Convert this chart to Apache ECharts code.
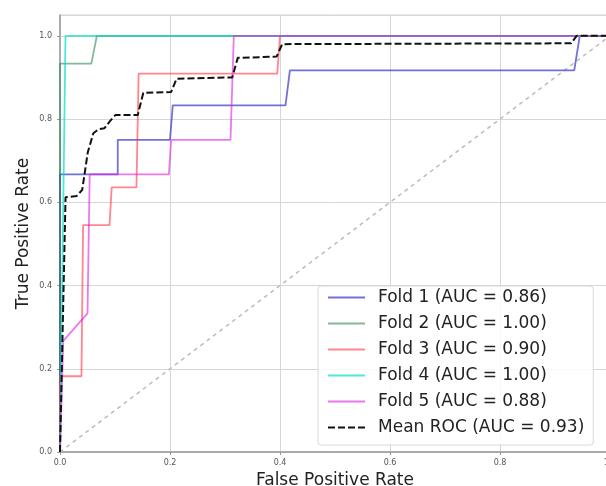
<!DOCTYPE html>
<html>
<head>
<meta charset="utf-8">
<script src="https://cdn.jsdelivr.net/npm/echarts@6/dist/echarts.min.js"></script>
<style>html,body{margin:0;padding:0;background:#fff}#c{width:606px;height:486px}</style>
</head>
<body>
<div id="c"></div>
<script>
// ---- data: [false positive rate, true positive rate]
var foldNames = ["Fold 1 (AUC = 0.86)", "Fold 2 (AUC = 1.00)", "Fold 3 (AUC = 0.90)", "Fold 4 (AUC = 1.00)", "Fold 5 (AUC = 0.88)"];
var meanName = "Mean ROC (AUC = 0.93)";
var fold1 = [[0,0],[0,0.667],[0.105,0.667],[0.105,0.75],[0.2,0.75],[0.205,0.833],[0.41,0.833],[0.418,0.917],[0.935,0.917],[0.945,1.0],[1,1]];
var fold2 = [[0,0],[0,0.933],[0.057,0.933],[0.067,1.0],[1,1]];
var fold3 = [[0,0],[0,0.182],[0.039,0.182],[0.042,0.545],[0.09,0.545],[0.094,0.636],[0.139,0.636],[0.143,0.909],[0.395,0.909],[0.4,1.0],[1,1]];
var fold4 = [[0,0],[0.01,1.0],[1,1]];
var fold5 = [[0,0],[0.006,0.267],[0.05,0.333],[0.054,0.667],[0.198,0.667],[0.202,0.75],[0.31,0.75],[0.316,1.0],[1,1]];
var meanRoc = [[0,0],[0.0101,0.612],[0.0303,0.615],[0.0404,0.63],[0.0505,0.72],[0.0606,0.766],[0.0707,0.776],[0.0808,0.778],[0.0909,0.795],[0.101,0.81],[0.1414,0.81],[0.1515,0.863],[0.202,0.865],[0.2121,0.897],[0.3131,0.9],[0.3232,0.947],[0.3939,0.95],[0.404,0.98],[0.9293,0.982],[0.9394,1.0],[1,1]];
var chance = [[0,0],[1,1]];
var xTicks = [0, 0.2, 0.4, 0.6, 0.8, 1.0];
var yTicks = [0, 0.2, 0.4, 0.6, 0.8, 1.0];

var foldData = [fold1, fold2, fold3, fold4, fold5];
var foldColors = ["#3434c4", "#2e8b57", "#ff3344", "#00e0c8", "#e020e0"];
var foldOpacity = [0.7, 0.6, 0.6, 0.7, 0.6];

var solidIcon = "path://M0,0H37V2H0Z";
var dashIcon = "path://M0,0H7V2H0Z M10,0H17V2H10Z M20,0H27V2H20Z M30,0H37V2H30Z";

var series = [{
  type: "line", name: "chance", data: chance, symbol: "none", silent: true,
  lineStyle: {color: "#bbbbbb", width: 1.5, type: [4, 4]}, z: 1
}];
foldData.forEach(function (d, i) {
  series.push({
    type: "line", name: foldNames[i], data: d, symbol: "none",
    lineStyle: {color: foldColors[i], width: 1.8, opacity: foldOpacity[i]},
    itemStyle: {color: foldColors[i], opacity: foldOpacity[i]}, z: 2
  });
});
series.push({
  type: "line", name: meanName, data: meanRoc, symbol: "none",
  lineStyle: {color: "#111", width: 2, type: [7, 3]},
  itemStyle: {color: "#111"}, z: 3
});

var legendData = foldNames.map(function (n) { return {name: n, icon: solidIcon}; });
legendData.push({name: meanName, icon: dashIcon});

var chart = echarts.init(document.getElementById("c"), null, {renderer: "canvas"});
chart.setOption({
  animation: false,
  backgroundColor: "#fff",
  textStyle: {fontFamily: "DejaVu Sans"},
  grid: {left: 60, top: 15, right: -4, bottom: 34, containLabel: false, outerBoundsMode: "none",
    show: true, borderColor: "#d6d6d6", borderWidth: 1},
  xAxis: {
    type: "value", min: xTicks[0], max: xTicks[xTicks.length - 1], interval: 0.2,
    name: "False Positive Rate", nameLocation: "middle", nameGap: 20, nameMoveOverlap: false,
    nameTextStyle: {fontSize: 17, color: "#222", fontFamily: "DejaVu Sans"},
    axisLine: {show: true, onZero: false, lineStyle: {color: "#999", width: 1.5}},
    axisTick: {show: true, length: 3, lineStyle: {color: "#999"}},
    axisLabel: {fontSize: 8, color: "#555", margin: 7, formatter: function (v) { return v.toFixed(1); }},
    splitLine: {show: true, lineStyle: {color: "#d6d6d6", width: 1}}
  },
  yAxis: {
    type: "value", min: yTicks[0], max: 1.05, interval: 0.2,
    name: "True Positive Rate", nameLocation: "middle", nameGap: 28, nameMoveOverlap: false,
    nameTextStyle: {fontSize: 17, color: "#222", fontFamily: "DejaVu Sans"},
    axisLine: {show: true, onZero: false, lineStyle: {color: "#999", width: 1.5}},
    axisTick: {show: true, length: 3, lineStyle: {color: "#999"}},
    axisLabel: {fontSize: 8, color: "#555", margin: 8, showMaxLabel: false,
      formatter: function (v) { return v > 1.001 ? "" : v.toFixed(1); }},
    splitLine: {show: true, lineStyle: {color: "#d6d6d6", width: 1}}
  },
  legend: {
    data: legendData,
    orient: "vertical", left: 318, top: 286,
    itemWidth: 37, itemHeight: 17, itemGap: 9,
    padding: [3, 9, 9, 10],
    backgroundColor: "rgba(255,255,255,0.85)", borderColor: "#d8d8d8", borderWidth: 1, borderRadius: 3,
    textStyle: {fontSize: 17, color: "#222", fontFamily: "DejaVu Sans", padding: [0, 0, 0, 8], lineHeight: 17},
    selectedMode: false
  },
  series: series
});
</script>
</body>
</html>
